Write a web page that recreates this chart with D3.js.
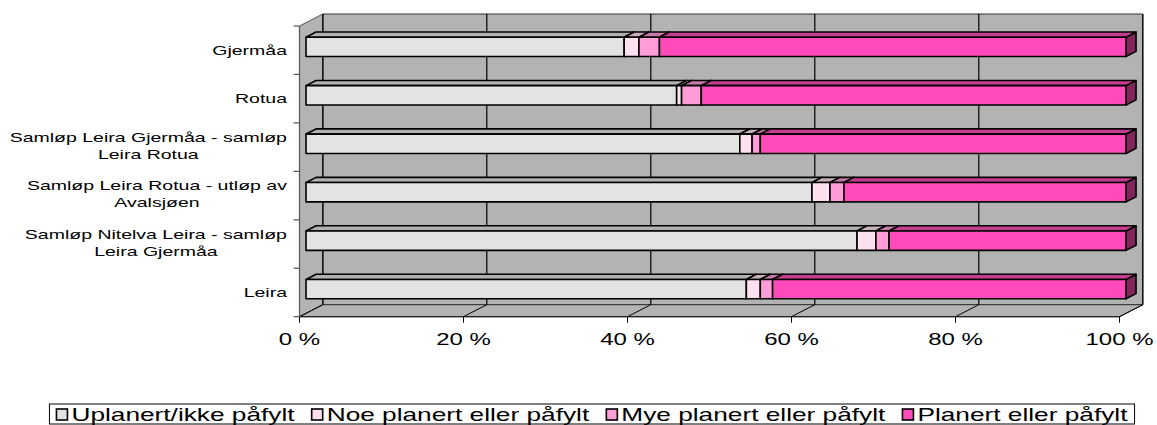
<!DOCTYPE html>
<html>
<head>
<meta charset="utf-8">
<script src="https://cdn.jsdelivr.net/npm/d3@7"></script>
<style>
  html, body { margin: 0; padding: 0; background: #ffffff; }
  svg { display: block; }
  text { font-family: "Liberation Sans", Arial, sans-serif; fill: #000; }
</style>
</head>
<body>
<svg id="chart" width="1157" height="425"></svg>
<script>
// Arealbruk langs vassdraget: andel (%) per strekning
const categories = [
  "Gjermåa",
  "Rotua",
  "Samløp Leira Gjermåa - samløp Leira Rotua",
  "Samløp Leira Rotua - utløp av Avalsjøen",
  "Samløp Nitelva Leira - samløp Leira Gjermåa",
  "Leira"
];
const seriesNames = [
  "Uplanert/ikke påfylt",
  "Noe planert eller påfylt",
  "Mye planert eller påfylt",
  "Planert eller påfylt"
];
const uplanert   = [38.8, 45.2, 52.9, 61.7, 67.2, 53.7];
const noePlanert = [1.8, 0.6, 1.5, 2.2, 2.3, 1.7];
const myePlanert = [2.5, 2.4, 1.0, 1.7, 1.6, 1.5];
const planert    = [56.9, 51.8, 44.6, 34.4, 28.9, 43.1];
const tickValues = [0, 20, 40, 60, 80, 100];
const tickLabels = ["0 %", "20 %", "40 %", "60 %", "80 %", "100 %"];

const seriesColors = ["#E3E3E3", "#FFE0F0", "#FF9DD8", "#FF4BB9"];

const svg = d3.select("#chart");
const SX = 1.5;             // horizontal stretch of all text
const DX = 23.3, DY = -12;  // 3D depth offset (front -> back wall)
const F1 = 0.28, F2 = 0.71; // bar depth span as fraction of full depth

const x = d3.scaleLinear().domain([0, 100]).range([299.5, 1119.5]);
const y = d3.scaleBand().domain(categories).range([26, 316.7]);
const yTop = y.range()[0], yBot = y.range()[1];

const pt = (px, py, f) => [px + DX * f, py + DY * f];
const poly = pts => pts.map(p => p.join(",")).join(" ");

function stretchedText(g, tx, ty, str, size, anchor) {
  return g.append("text")
    .attr("transform", `translate(${tx},${ty}) scale(${SX},1)`)
    .attr("text-anchor", anchor)
    .style("font-size", size + "px")
    .text(str);
}

// ---- walls ----
const walls = svg.append("g");
const x0 = x(0), x100 = x(100);
walls.append("polygon") // back wall
  .attr("points", poly([pt(x0, yTop, 1), pt(x100, yTop, 1), pt(x100, yBot, 1), pt(x0, yBot, 1)]))
  .attr("fill", "#B3B3B3").attr("stroke", "#333").attr("stroke-width", 1);
walls.append("polygon") // side wall
  .attr("points", poly([[x0, yTop], pt(x0, yTop, 1), pt(x0, yBot, 1), [x0, yBot]]))
  .attr("fill", "#B3B3B3").attr("stroke", "#555").attr("stroke-width", 1);
walls.append("polygon") // floor
  .attr("points", poly([[x0, yBot], [x100, yBot], pt(x100, yBot, 1), pt(x0, yBot, 1)]))
  .attr("fill", "#B3B3B3").attr("stroke", "#333").attr("stroke-width", 1);

// gridlines on back wall and floor
tickValues.forEach(v => {
  const xv = x(v);
  const b = pt(xv, yBot, 1), t = pt(xv, yTop, 1);
  walls.append("line").attr("x1", t[0]).attr("y1", t[1]).attr("x2", b[0]).attr("y2", b[1])
    .attr("stroke", "#000").attr("stroke-width", 1.2);
  walls.append("line").attr("x1", b[0]).attr("y1", b[1]).attr("x2", xv).attr("y2", yBot)
    .attr("stroke", "#000").attr("stroke-width", 1);
  walls.append("line").attr("x1", xv).attr("y1", yBot).attr("x2", xv).attr("y2", yBot + 6)
    .attr("stroke", "#000").attr("stroke-width", 1);
});

// category axis line and ticks
walls.append("line").attr("x1", x0).attr("y1", yTop).attr("x2", x0).attr("y2", yBot)
  .attr("stroke", "#555").attr("stroke-width", 1.2);
walls.append("line").attr("x1", x0).attr("y1", yBot).attr("x2", x100).attr("y2", yBot)
  .attr("stroke", "#222").attr("stroke-width", 1.2);
const catBounds = categories.map(c => y(c)).concat([yBot]);
catBounds.forEach(b => {
  walls.append("line").attr("x1", x0 - 6).attr("y1", b).attr("x2", x0).attr("y2", b)
    .attr("stroke", "#555").attr("stroke-width", 1.2);
});

// ---- stacked 3D bars ----
const stackData = categories.map((c, i) => ({
  cat: c,
  vals: [uplanert[i], noePlanert[i], myePlanert[i], planert[i]]
}));
const shade = (col, k) => {
  const c = d3.rgb(col);
  return d3.rgb(c.r * k, c.g * k, c.b * k).formatHex();
};
const barsG = svg.append("g");
const barH = y.bandwidth() * 0.4;
stackData.forEach(d => {
  const cy = y(d.cat) + y.bandwidth() / 2;
  const y1 = cy - barH / 2, y2 = cy + barH / 2;
  let acc = 0;
  d.vals.forEach((v, s) => {
    const a = x(acc), b = x(acc + v);
    acc += v;
    const col = seriesColors[s];
    const g = barsG.append("g").attr("stroke", "#000").attr("stroke-width", 1.6).attr("stroke-linejoin", "round");
    // right side
    g.append("polygon")
      .attr("points", poly([pt(b, y1, F1), pt(b, y1, F2), pt(b, y2, F2), pt(b, y2, F1)]))
      .attr("fill", shade(col, 0.5));
    // top
    g.append("polygon")
      .attr("points", poly([pt(a, y1, F1), pt(a, y1, F2), pt(b, y1, F2), pt(b, y1, F1)]))
      .attr("fill", shade(col, 0.78));
    // front
    const f0 = pt(a, y1, F1), f1 = pt(b, y2, F1);
    g.append("rect")
      .attr("x", f0[0]).attr("y", f0[1])
      .attr("width", Math.max(0, f1[0] - f0[0])).attr("height", f1[1] - f0[1])
      .attr("fill", col);
  });
});

// ---- axis labels ----
const labelsG = svg.append("g");
tickValues.forEach((v, i) => {
  stretchedText(labelsG, x(v), 345, tickLabels[i], 16, "middle");
});

// category labels, wrapped and centered per line, right edge at axis
const measure = svg.append("text").style("font-size", "13px").attr("visibility", "hidden");
const textW = (s, size) => { measure.style("font-size", size + "px").text(s); return measure.node().getComputedTextLength() * SX; };
const maxLabelW = 285;
categories.forEach(c => {
  const words = c.split(" ");
  const lines = [];
  let cur = "";
  words.forEach(w => {
    const trial = cur ? cur + " " + w : w;
    if (textW(trial, 13) > maxLabelW && cur) { lines.push(cur); cur = w; }
    else cur = trial;
  });
  lines.push(cur);
  const blockW = d3.max(lines, l => textW(l, 13));
  const centerX = 287 - blockW / 2;
  const lh = 17;
  const cy = y(c) + y.bandwidth() / 2 - (lines.length > 1 ? 1.5 : 0);
  lines.forEach((l, k) => {
    const by = cy + 4.7 + (k - (lines.length - 1) / 2) * lh;
    stretchedText(labelsG, centerX, by, l, 13, "middle");
  });
});

// ---- legend ----
const legG = svg.append("g");
const legSize = 17.5, mk = 11, mkGap = 4, itemGap = 17, pad = 7;
const widths = seriesNames.map(n => textW(n, legSize));
const contentW = d3.sum(widths) + seriesNames.length * (mk + mkGap) + itemGap * (seriesNames.length - 1);
const boxW = contentW + pad * 2;
const boxX = 592 - boxW / 2, boxY = 404, boxH = 20;
legG.append("rect").attr("x", boxX).attr("y", boxY).attr("width", boxW).attr("height", boxH)
  .attr("fill", "#fff").attr("stroke", "#000").attr("stroke-width", 1);
let lx = boxX + pad;
seriesNames.forEach((n, i) => {
  legG.append("rect").attr("x", lx).attr("y", boxY + 5).attr("width", mk).attr("height", mk)
    .attr("fill", seriesColors[i]).attr("stroke", "#000").attr("stroke-width", 1.6);
  lx += mk + mkGap;
  stretchedText(legG, lx, boxY + 16.8, n, legSize, "start");
  lx += widths[i] + itemGap;
});
measure.remove();
</script>
</body>
</html>
